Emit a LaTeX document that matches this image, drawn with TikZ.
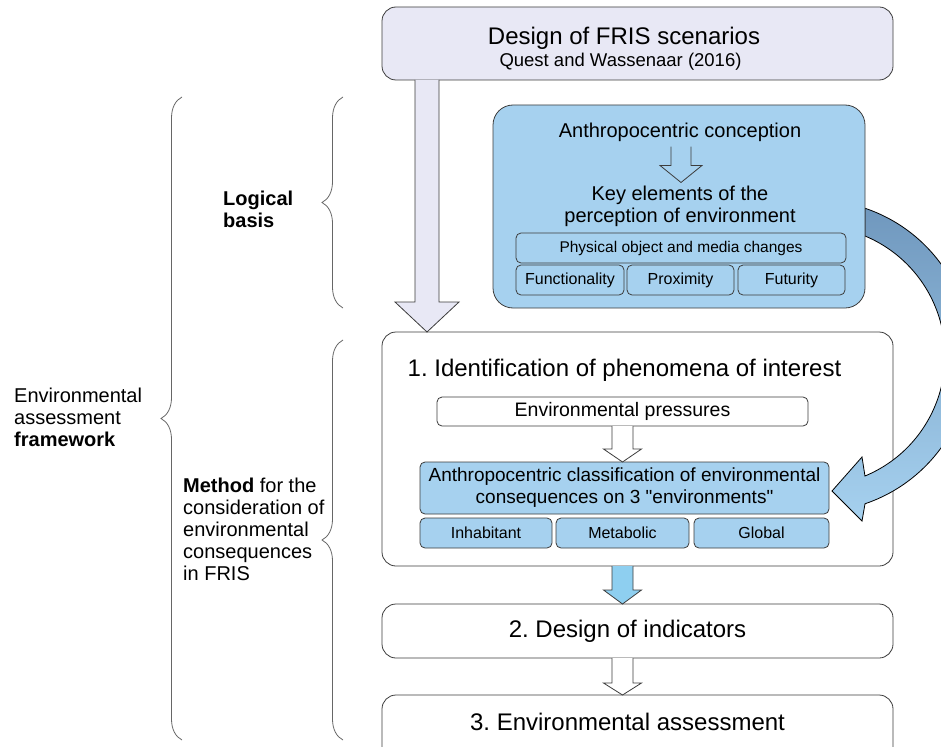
\documentclass[tikz,border=0pt]{standalone}
\usepackage{fontspec}
\setmainfont{Liberation Sans}
\usepackage{xcolor}
\usepackage{tikz}
\usetikzlibrary{calc, positioning, decorations.pathreplacing}

\definecolor{lavender}{RGB}{232,232,245}
\definecolor{skyfill}{RGB}{166,209,239}
\definecolor{arrowblue}{RGB}{142,207,240}
\definecolor{steelarc}{RGB}{112,152,190}
\definecolor{edgegray}{RGB}{60,60,60}

\newcommand{\fsz}[2]{\fontsize{#1}{#2}\selectfont}
% block arrow pointing down: [style]{from}{to}{shaft half}{head half}{head length}
\newcommand{\blockarrow}[6][]{%
  \filldraw[#1] let \p1=(#2), \p2=(#3) in
    (\x1-#4pt,\y1) -- (\x1-#4pt,\y2+#6pt) -- (\x1-#5pt,\y2+#6pt) -- (\x1,\y2)
    -- (\x1+#5pt,\y2+#6pt) -- (\x1+#4pt,\y2+#6pt) -- (\x1+#4pt,\y1);}
\frenchspacing

\begin{document}
\begin{tikzpicture}[x=1pt,y=-1pt,
        frame/.style={draw=edgegray,line width=0.8pt,rounded corners=14pt,
                      fill=white,inner sep=0pt,outer sep=0pt},
        topframe/.style={frame,fill=lavender},
        skyframe/.style={frame,rounded corners=20pt,fill=skyfill},
        chip/.style={draw=edgegray,line width=0.8pt,rounded corners=5pt,
                     fill=skyfill,inner sep=0pt,outer sep=0pt,
                     minimum height=30pt,font=\fsz{16}{18}},
        whitechip/.style={chip,fill=white},
        hollow/.style={draw=edgegray,line width=0.8pt,fill=white},
        lbl/.style={inner sep=0pt,align=center},
        curly/.style={decorate,decoration={brace,amplitude=21pt},
                      draw=black!60,line width=0.8pt}]
  \useasboundingbox (0,0) rectangle (941,746);

  % top: scenario design
  \node[topframe,minimum width=511pt,minimum height=73pt] (scen) at (637.5,43.5) {};
  \node[lbl,font=\fsz{24}{26}] (scentitle) at (624,38) {Design of FRIS scenarios};
  \node[lbl,font=\fsz{18.5}{20}] (scenref) at (620.5,62) {Quest and Wassenaar (2016)};

  % method steps
  \node[frame,minimum width=511pt,minimum height=234pt] (ident) at (637.5,449) {};
  \node[frame,minimum width=511pt,minimum height=54pt] (indic) at (637.5,631) {};
  \node[frame,minimum width=511pt,minimum height=70pt] (assess) at (637.5,730) {};
  \node[lbl,font=\fsz{24}{26}] (identtitle) at (624.5,370) {1. Identification of phenomena of interest};
  \node[lbl,font=\fsz{24}{26}] (indictext) at (627.5,631) {2. Design of indicators};
  \node[lbl,font=\fsz{24}{26}] (assesstext) at (627.5,722) {3. Environmental assessment};

  \node[whitechip,minimum width=371pt,minimum height=29pt,font=\fsz{19.5}{22}] (envp) at (622.5,411.5) {Environmental pressures};
  \node[chip,minimum width=409pt,minimum height=52pt,align=center,font=\fsz{19}{22}] (class) at (624.5,488)
    {Anthropocentric classification of environmental\\consequences on 3 \textquotedbl environments\textquotedbl};
  \node[chip,minimum width=132pt] (inhab) at (486,533) {Inhabitant};
  \node[chip,minimum width=133pt] (metab) at (622.5,533) {Metabolic};
  \node[chip,minimum width=135pt] (glob) at (761.5,533) {Global};

  \blockarrow[hollow]{envp.south}{class.north -| envp.south}{10.5}{19}{13}
  \blockarrow[hollow,fill=arrowblue]{ident.south -| envp.south}{indic.north -| envp.south}{10.5}{19}{14}
  \blockarrow[hollow]{indic.south -| envp.south}{assess.north -| envp.south}{10.5}{19}{12}

  % from scenarios down to step 1
  \coordinate (bigx) at (427,0);
  \blockarrow[hollow,fill=lavender]{scen.south -| bigx}{ident.north -| bigx}{12}{32}{30}

  % curved arrow from logical basis to the classification
  \coordinate (bend) at (815,356);
  \draw[line width=0.8pt,draw=black,top color=steelarc,middle color=steelarc!55!skyfill,bottom color=skyfill]
    ($(bend)+(-71.3:156)$) arc[start angle=-71.3,end angle=71.3,radius=156]
    -- (862,521) -- ($(class.east)+(3,3)$) -- (862,457)
    -- ($(bend)+(67.4:130)$) arc[start angle=67.4,end angle=-67.4,radius=130] -- cycle;

  % logical basis
  \node[skyframe,minimum width=372pt,minimum height=203pt] (logic) at (679,206.5) {};
  \node[lbl,font=\fsz{20}{22}] (anthro) at (680,132) {Anthropocentric conception};
  \node[lbl,font=\fsz{20}{22}] (keyel) at (680,206) {Key elements of the\\perception of environment};
  \node[chip,minimum width=330pt,font=\fsz{15.5}{18}] (phys) at (681,248) {Physical object and media changes};
  \node[chip,minimum width=108pt] (func) at (570,280) {Functionality};
  \node[chip,minimum width=107pt] (prox) at (680.5,280) {Proximity};
  \node[chip,minimum width=107pt] (futur) at (791.5,280) {Futurity};
  \blockarrow[hollow,fill=skyfill]{$(anthro.south)+(1,5)$}{$(keyel.north)+(1,-3)$}{10}{21}{17}

  % braces and side labels
  \draw[curly] (182,740) -- (182,97);
  \draw[curly] (343,308) -- (343,97);
  \draw[curly] (343,740) -- (343,340);
  \node[lbl,align=left,anchor=west,font=\fsz{20}{22}] (eaf) at (14,417)
    {Environmental\\assessment\\\textbf{framework}};
  \node[lbl,align=left,anchor=west,font=\fsz{20}{22}] (logbasis) at (223,209)
    {\textbf{Logical}\\\textbf{basis}};
  \node[lbl,align=left,anchor=west,font=\fsz{20}{22}] (method) at (183,529)
    {\textbf{Method} for the\\consideration of\\environmental\\consequences\\in FRIS};
\end{tikzpicture}
\end{document}
